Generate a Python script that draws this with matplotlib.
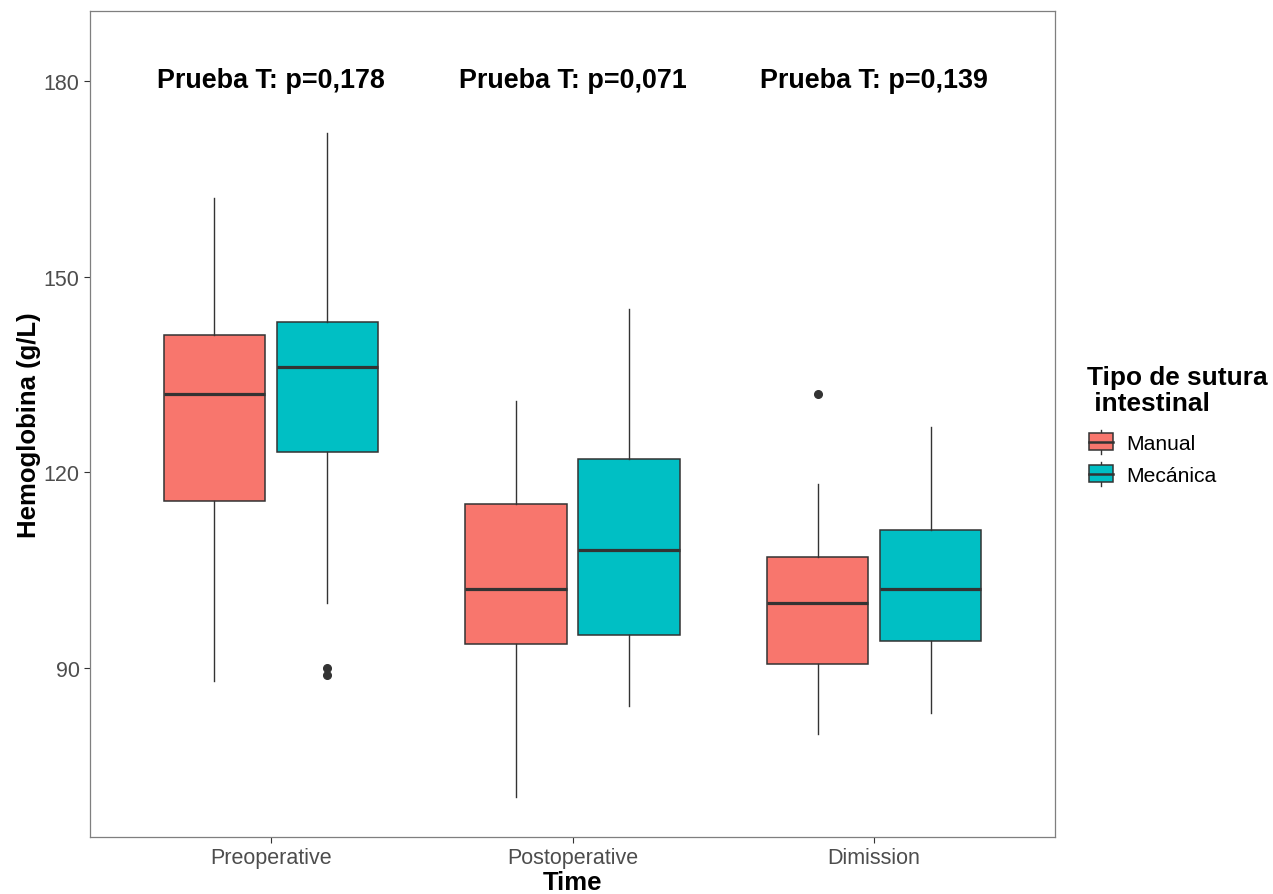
import matplotlib
matplotlib.use("Agg")
import matplotlib.pyplot as plt
from matplotlib.patches import Rectangle
from matplotlib.lines import Line2D
from matplotlib.legend_handler import HandlerBase

plt.rcParams['font.family'] = ['Liberation Sans', 'DejaVu Sans']

categories = ["Preoperative", "Postoperative", "Dimission"]
groups = ["Manual", "Mecánica"]
colors = ["#F8766D", "#00BFC4"]

# per group, per category: whisker low, Q1, median, Q3, whisker high
manual_wlo = [88, 70.3, 80]
manual_q1 = [115.6, 93.7, 90.6]
manual_med = [132, 102.1, 100]
manual_q3 = [141.1, 115.1, 107]
manual_whi = [162, 131, 118.2]
manual_out = [[], [], [132]]

mec_wlo = [100, 84.2, 83.1]
mec_q1 = [123.2, 95.1, 94.1]
mec_med = [136.2, 108.1, 102.1]
mec_q3 = [143.1, 122.1, 111.2]
mec_whi = [172, 145, 127]
mec_out = [[90, 89], [], []]

pvalues = ["0,178", "0,071", "0,139"]
yticks = [90, 120, 150, 180]

line_col = "#333333"

fig = plt.figure(figsize=(12.73, 8.95), dpi=100)
ax = fig.add_axes([90/1273, 1-838/895, (1055-90)/1273, (838-12)/895])

def stats(wlo, q1, med, q3, whi, out):
    return [dict(whislo=wlo[i], q1=q1[i], med=med[i], q3=q3[i], whishi=whi[i],
                 fliers=out[i]) for i in range(len(categories))]

offset = 0.1875
width = 0.3375
series = [
    stats(manual_wlo, manual_q1, manual_med, manual_q3, manual_whi, manual_out),
    stats(mec_wlo, mec_q1, mec_med, mec_q3, mec_whi, mec_out),
]
for gi, st in enumerate(series):
    pos = [i + 1 + (-offset if gi == 0 else offset) for i in range(len(categories))]
    ax.bxp(st, positions=pos, widths=width, patch_artist=True, showcaps=False,
           boxprops=dict(facecolor=colors[gi], edgecolor=line_col, linewidth=1.1),
           medianprops=dict(color=line_col, linewidth=2.3, solid_capstyle='butt'),
           whiskerprops=dict(color=line_col, linewidth=1.0),
           flierprops=dict(marker='o', markersize=5.5, markerfacecolor=line_col,
                           markeredgecolor=line_col))

for i, p in enumerate(pvalues):
    ax.text(i + 1, 180.1, f"Prueba T: p={p}", ha='center', va='center',
            fontsize=19.4, fontweight='bold', color='black')

ax.set_xlim(0.4, 3.6)
ax.set_ylim(64.15, 190.68)
ax.set_xticks(range(1, len(categories) + 1))
ax.set_xticklabels(categories)
ax.set_yticks(yticks)
ax.tick_params(axis='both', colors='#333333', labelcolor='#4D4D4D', labelsize=15.5,
               length=4.5, width=0.8, pad=3)
for s in ax.spines.values():
    s.set_color('#7F7F7F')
    s.set_linewidth(0.9)
ax.set_xlabel("Time", fontsize=18.5, fontweight='bold', labelpad=1)
ax.set_ylabel("Hemoglobina (g/L)", fontsize=18.5, fontweight='bold', labelpad=2)


class HandlerBox(HandlerBase):
    def create_artists(self, legend, orig_handle, xdescent, ydescent, width, height,
                       fontsize, trans):
        fc = orig_handle.get_facecolor()
        cx = -xdescent + width / 2
        bottom = -ydescent
        bh = height * 0.66
        by = bottom + (height - bh) / 2
        r = Rectangle((-xdescent, by), width, bh, facecolor=fc, edgecolor=line_col,
                      linewidth=1.1, transform=trans)
        m = Line2D([-xdescent, -xdescent + width], [by + bh / 2] * 2, color=line_col,
                   linewidth=1.8, transform=trans)
        w1 = Line2D([cx, cx], [bottom + height * 0.02, by], color=line_col,
                    linewidth=1.0, transform=trans)
        w2 = Line2D([cx, cx], [by + bh, bottom + height * 0.98], color=line_col,
                    linewidth=1.0, transform=trans)
        return [w1, w2, r, m]


fig.text(1087/1273, 1-366/895, "Tipo de sutura\n intestinal", ha='left', va='top',
         fontsize=18.9, fontweight='bold', linespacing=1.1)

handles = [Rectangle((0, 0), 1, 1, facecolor=c) for c in colors]
leg = fig.legend(handles, groups, handler_map={Rectangle: HandlerBox()},
                 loc='upper left', bbox_to_anchor=(1089/1273, 1-430/895),
                 frameon=False, fontsize=15.2,
                 handlelength=1.15, handleheight=1.5, labelspacing=0.3,
                 handletextpad=0.6, borderpad=0.0, borderaxespad=0.0)

fig.savefig("out.png", dpi=100, facecolor='white')
